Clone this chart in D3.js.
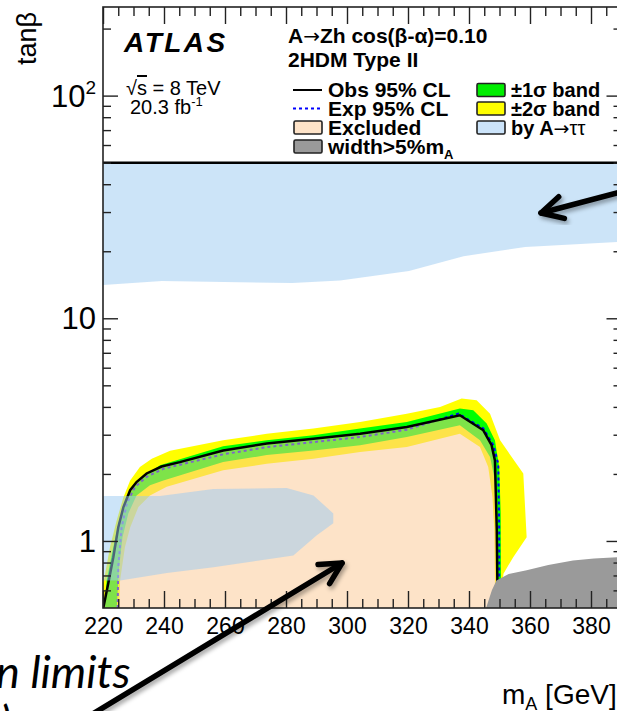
<!DOCTYPE html>
<html><head><meta charset="utf-8">
<script src="https://cdn.jsdelivr.net/npm/d3@7"></script>
<style>
html,body{margin:0;padding:0;background:#fff;}
svg{display:block;font-family:"Liberation Sans",Arial,Helvetica,sans-serif;}
</style></head>
<body>
<svg id="c" width="617" height="711"></svg>
<script>
// ---------------- data (mA [GeV], tanβ) ----------------
const xTicksMajor = [220, 240, 260, 280, 300, 320, 340, 360, 380];
const yTicksMajor = [1, 10, 100];
const yTickLabels = ["1", "10", "10²"];

const obsLimit = [[220.1,0.5],[221.7,0.643],[223.4,0.846],[225.0,1.15],[226.7,1.42],[228.9,1.69],[231.0,1.84],[234.3,2.01],[239.2,2.16],[245.2,2.26],[259.4,2.55],[273.7,2.74],[289.0,2.88],[304.3,3.03],[319.6,3.25],[337.0,3.67],[344.7,3.14],[347.4,2.69],[348.5,2.30],[349.1,1.12],[349.3,0.653],[349.3,0.5]];
const expLimit = [[224.8,0.5],[225.0,0.763],[226.1,1.15],[227.8,1.47],[230.5,1.75],[234.3,1.94],[239.8,2.11],[259.4,2.45],[273.7,2.64],[289.0,2.78],[304.3,2.93],[319.6,3.16],[336.5,3.73],[344.7,3.20],[348.0,2.69],[349.6,2.22],[349.9,1.12],[349.9,0.5]];
const band2Outer = [[217,0.5],[220.3,0.665],[222.3,0.939],[224.5,1.24],[226.7,1.57],[228.9,1.87],[232.1,2.15],[236.0,2.34],[242.0,2.54],[259.4,2.83],[273.7,3.03],[289.0,3.20],[304.3,3.42],[319.6,3.73],[330.5,4.0],[337.6,4.36],[342.5,4.29],[346.9,3.73],[350.2,2.83],[357.8,2.01],[358.9,1.04],[354.5,0.846],[351.3,0.713],[350.2,0.5]];
const band2Inner = [[225.3,0.5],[225.6,0.665],[227.2,0.939],[228.9,1.15],[231.6,1.42],[235.4,1.60],[240.9,1.75],[259.4,2.08],[273.7,2.22],[289.0,2.34],[304.3,2.51],[319.6,2.64],[337.0,3.03],[343.6,2.64],[346.3,2.15],[347.7,1.57],[348.3,1.12],[348.5,0.665],[348.5,0.5]];
const band1Outer = [[220.6,0.5],[221.2,0.665],[223.4,0.939],[225.3,1.24],[227.8,1.55],[230.5,1.78],[234.3,1.99],[238.7,2.19],[259.4,2.66],[273.7,2.83],[289.0,2.98],[304.3,3.20],[319.6,3.42],[337.0,3.93],[341.4,3.86],[345.8,3.37],[348.5,2.83],[349.9,2.15],[350.4,1.33],[350.5,0.665],[350.5,0.5]];
const band1Inner = [[224.5,0.5],[225.3,0.763],[226.4,1.04],[228.3,1.33],[231.0,1.60],[235.4,1.78],[239.8,1.87],[259.4,2.26],[273.7,2.43],[289.0,2.55],[304.3,2.69],[319.6,2.93],[337.0,3.31],[343.6,2.83],[346.9,2.38],[348.5,1.87],[348.9,1.12],[349.1,0.665],[349.1,0.5]];
const tauTopTanb = 50;
const tauHighLower = [[218,14.1],[220,14.1],[239.3,14.7],[282.0,14.4],[297.7,14.8],[320.3,16.3],[338.2,19.0],[358.4,20.9],[388.5,22.0],[392,22.1]];
const tauLow = [[218,1.59],[238.7,1.59],[256.2,1.71],[280.2,1.73],[289.0,1.60],[295.5,1.33],[295.5,1.20],[290.1,1.06],[282.4,0.861],[256.2,0.763],[240.9,0.718],[225.6,0.665],[218,0.665]];
const widthRegion = [[345.6,0.5],[347.5,0.6],[349.0,0.665],[353,0.71],[358.9,0.738],[366,0.78],[374.1,0.818],[381,0.835],[388.5,0.846],[392,0.85],[392,0.5]];

// ---------------- layout ----------------
const svg = d3.select("#c");
const L = 103, R = 621.5, T = 7, B = 608;
const x = d3.scaleLinear().domain([220, 390]).range([L, R]);
const y = d3.scaleLog().domain([0.5, 250]).range([B, T]);
const line = d3.line().x(d => x(d[0])).y(d => y(d[1]));
const ARW = "'DejaVu Sans', sans-serif";
const FS = 21;

const defs = svg.append("defs");
defs.append("clipPath").attr("id", "plot").append("rect")
  .attr("x", L).attr("y", T).attr("width", R - L).attr("height", B - T);
const f = defs.append("filter").attr("id", "sh").attr("x", "-20%").attr("y", "-20%").attr("width", "140%").attr("height", "140%");
f.append("feDropShadow").attr("dx", 2).attr("dy", 3).attr("stdDeviation", 2).attr("flood-color", "#000").attr("flood-opacity", 0.35);

const g = svg.append("g").attr("clip-path", "url(#plot)");
const ring = (outer, inner) => line(outer.concat(inner.slice().reverse())) + "Z";

g.append("path").attr("d", ring(band2Outer, band2Inner)).attr("fill", "#ffff00");
g.append("path").attr("d", ring(band1Outer, band1Inner)).attr("fill", "#00ff00");
g.append("path").attr("d", line(expLimit)).attr("fill", "none").attr("stroke", "#0000ff")
  .attr("stroke-width", 2).attr("stroke-dasharray", "3,3");
g.append("path").attr("d", line(obsLimit) + "Z").attr("fill", "rgb(251,199,145)").attr("fill-opacity", 0.5);
g.append("path").attr("d", line(obsLimit)).attr("fill", "none").attr("stroke", "#000").attr("stroke-width", 2.5);

const tauHigh = tauHighLower.concat([[392, tauTopTanb], [218, tauTopTanb]]);
g.append("path").attr("d", line(tauHigh) + "Z").attr("fill", "rgb(153,201,241)").attr("fill-opacity", 0.5);
g.append("path").attr("d", line(tauLow) + "Z").attr("fill", "rgb(153,201,241)").attr("fill-opacity", 0.5);
g.append("path").attr("d", line(widthRegion) + "Z").attr("fill", "#9a9a9a");
g.append("line").attr("x1", L).attr("x2", R).attr("y1", y(tauTopTanb)).attr("y2", y(tauTopTanb))
  .attr("stroke", "#000").attr("stroke-width", 2.5);

// ---------------- axes ----------------
const xMinor = d3.range(220, 391, 5).filter(v => v % 20 !== 0);
const yMinor = [0.6,0.7,0.8,0.9,2,3,4,5,6,7,8,9,20,30,40,50,60,70,80,90,200];
function styleAx(sel) {
  sel.select(".domain").remove();
  sel.selectAll(".tick line").attr("stroke", "#222").attr("stroke-width", 1.4);
}
const axB = svg.append("g").attr("transform", `translate(0,${B})`)
  .call(d3.axisBottom(x).tickValues(xTicksMajor).tickSize(-17).tickPadding(10).tickFormat(d3.format("d")));
axB.call(styleAx);
axB.selectAll("text").attr("font-size", 23).attr("fill", "#000").attr("font-family", "Liberation Sans, Arial, sans-serif");
svg.append("g").attr("transform", `translate(0,${B})`)
  .call(d3.axisBottom(x).tickValues(xMinor).tickSize(-9).tickFormat("")).call(styleAx);
svg.append("g").attr("transform", `translate(0,${T})`)
  .call(d3.axisTop(x).tickValues(xTicksMajor).tickSize(-17).tickFormat("")).call(styleAx);
svg.append("g").attr("transform", `translate(0,${T})`)
  .call(d3.axisTop(x).tickValues(xMinor).tickSize(-9).tickFormat("")).call(styleAx);
svg.append("g").attr("transform", `translate(${L},0)`)
  .call(d3.axisLeft(y).tickValues(yTicksMajor).tickSize(-15).tickFormat("")).call(styleAx);
svg.append("g").attr("transform", `translate(${L},0)`)
  .call(d3.axisLeft(y).tickValues(yMinor).tickSize(-8).tickFormat("")).call(styleAx);
svg.append("g").attr("transform", `translate(${R},0)`)
  .call(d3.axisRight(y).tickValues(yTicksMajor).tickSize(-15).tickFormat("")).call(styleAx);
svg.append("g").attr("transform", `translate(${R},0)`)
  .call(d3.axisRight(y).tickValues(yMinor).tickSize(-8).tickFormat("")).call(styleAx);

// frame
svg.append("rect").attr("x", L).attr("y", T).attr("width", R - L).attr("height", B - T)
  .attr("fill", "none").attr("stroke", "#222").attr("stroke-width", 1.6);

// y tick labels
yTicksMajor.forEach((v, i) => {
  const t = svg.append("text").attr("x", 96).attr("y", y(v) + 11).attr("text-anchor", "end")
    .attr("font-size", 31).attr("fill", "#000");
  if (v === 100) {
    t.append("tspan").text("10");
    t.append("tspan").attr("font-size", 19).attr("dy", -13).text("2");
  } else t.text(yTickLabels[i]);
});

// axis titles
svg.append("text").attr("transform", "translate(36,12) rotate(-90)").attr("text-anchor", "end")
  .attr("font-size", 27).text("tanβ");
const xt = svg.append("text").attr("x", 502).attr("y", 704).attr("font-size", 28);
xt.append("tspan").text("m");
xt.append("tspan").attr("font-size", 18).attr("dy", 6).text("A");
xt.append("tspan").attr("dy", -6).text(" [GeV]");

// ---------------- labels & legend ----------------
svg.append("text").attr("x", 124).attr("y", 52).attr("font-size", 28).attr("font-weight", "bold")
  .attr("font-style", "italic").attr("letter-spacing", 2.5).text("ATLAS");
const s1 = svg.append("text").attr("x", 126).attr("y", 95).attr("font-size", 20);
s1.append("tspan").text("√");
s1.append("tspan").attr("text-decoration", "overline").text("s");
s1.append("tspan").text(" = 8 TeV");
const s2 = svg.append("text").attr("x", 130).attr("y", 114).attr("font-size", 20);
s2.append("tspan").text("20.3 fb");
s2.append("tspan").attr("font-size", 13).attr("dy", -8).text("-1");

const t1 = svg.append("text").attr("x", 288).attr("y", 43).attr("font-size", FS).attr("font-weight", "bold");
t1.append("tspan").text("A");
t1.append("tspan").attr("font-family", ARW).attr("font-weight", "normal").attr("font-size", 20).text("→");
t1.append("tspan").text("Zh cos(β-α)=0.10");
svg.append("text").attr("x", 288).attr("y", 67).attr("font-size", FS).attr("font-weight", "bold")
  .text("2HDM Type II");

const legRows = [90, 108.5, 127.5, 146.5];
const lg = svg.append("g").attr("font-size", FS).attr("font-weight", "bold");
lg.append("line").attr("x1", 293).attr("x2", 322).attr("y1", legRows[0]).attr("y2", legRows[0]).attr("stroke", "#000").attr("stroke-width", 2);
lg.append("line").attr("x1", 293).attr("x2", 322).attr("y1", legRows[1]).attr("y2", legRows[1]).attr("stroke", "#0000ff").attr("stroke-width", 2).attr("stroke-dasharray", "3,3");
const box = (x0, r, fill) => lg.append("rect").attr("x", x0).attr("y", r - 6.5).attr("width", 28).attr("height", 13)
  .attr("rx", 1.5).attr("fill", fill).attr("stroke", "#222").attr("stroke-width", 1.6);
box(294, legRows[2], "#fee3c8");
box(294, legRows[3], "#9a9a9a");
box(477, legRows[0], "#00ee00");
box(477, legRows[1], "#ffff00");
box(477, legRows[2], "#cce4fa");
lg.append("text").attr("x", 328).attr("y", legRows[0] + 7).text("Obs 95% CL");
lg.append("text").attr("x", 328).attr("y", legRows[1] + 7).text("Exp 95% CL");
lg.append("text").attr("x", 328).attr("y", legRows[2] + 7).text("Excluded");
const wt = lg.append("text").attr("x", 328).attr("y", legRows[3] + 7);
wt.append("tspan").text("width>5%m");
wt.append("tspan").attr("font-size", 13).attr("dy", 5).text("A");
lg.append("text").attr("x", 511).attr("y", legRows[0] + 7).attr("font-size", 20).text("±1σ band");
lg.append("text").attr("x", 511).attr("y", legRows[1] + 7).attr("font-size", 20).text("±2σ band");
const bt = lg.append("text").attr("x", 511).attr("y", legRows[2] + 7).attr("font-size", 20);
bt.append("tspan").text("by A");
bt.append("tspan").attr("font-family", ARW).attr("font-weight", "normal").attr("font-size", 19).text("→");
bt.append("tspan").attr("font-weight", "normal").text("ττ");

// ---------------- slide annotations ----------------
function arrow(x1, y1, x2, y2) {
  const a = svg.append("g").attr("filter", "url(#sh)").attr("stroke", "#000").attr("stroke-width", 5.5)
    .attr("stroke-linecap", "round").attr("fill", "none");
  const ang = Math.atan2(y2 - y1, x2 - x1), len = 24, sp = Math.PI / 6.5;
  a.append("line").attr("x1", x1).attr("y1", y1).attr("x2", x2).attr("y2", y2);
  a.append("path").attr("stroke-linejoin", "round").attr("d",
    `M${x2 - len * Math.cos(ang - sp)},${y2 - len * Math.sin(ang - sp)}L${x2},${y2}L${x2 - len * Math.cos(ang + sp)},${y2 - len * Math.sin(ang + sp)}`);
}
arrow(86, 718, 342, 563);
arrow(628, 190, 541, 213);
svg.append("text").attr("x", -4).attr("y", 688).attr("font-family", "Lato, 'Open Sans', sans-serif")
  .attr("font-style", "italic").attr("font-size", 45).text("n limits");
svg.append("text").attr("x", 0).attr("y", 738).attr("font-family", "Lato, 'Open Sans', sans-serif")
  .attr("font-style", "italic").attr("font-size", 45).text(")");
</script>
</body></html>
